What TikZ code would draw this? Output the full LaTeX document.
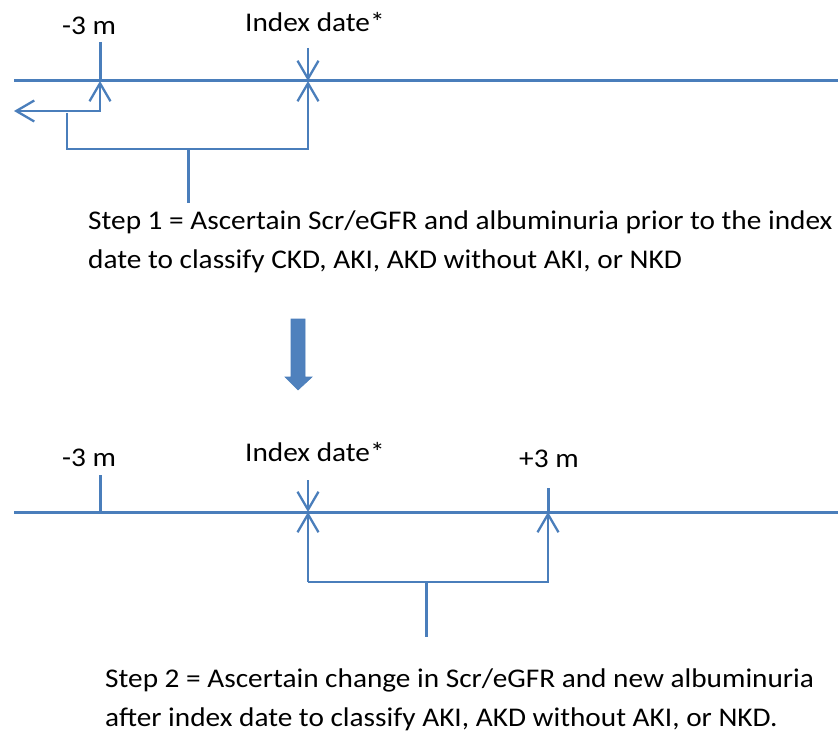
\documentclass[tikz,border=0pt]{standalone}
\usepackage{fontspec}
\setmainfont{Carlito}[FakeStretch=1.085]
\usetikzlibrary{arrows.meta}
\definecolor{lblue}{HTML}{4A7EBB}
\definecolor{fblue}{HTML}{4F81BD}
\tikzset{
  tl/.style={draw=lblue, line width=3pt},
  thin/.style={draw=lblue, line width=2.3pt},
  barb/.style={-{Straight Barb[length=18pt,width=21pt,line width=2.3pt]}},
  lbl/.style={anchor=base west, inner sep=0pt, font=\fontsize{27}{39}\selectfont, text=black},
}
\begin{document}
\begin{tikzpicture}[x=1pt,y=-1pt]
\useasboundingbox (0,0) rectangle (838,733);
% ---------- top timeline ----------
\coordinate (t1l) at (14,81);
\coordinate (t1r) at (838,81);
\coordinate (a1) at (100,81);
\coordinate (a1top) at (100,42);
\coordinate (a1el) at (100,111);
\coordinate (a1left) at (14,111);
\coordinate (i1) at (308,81);
\coordinate (i1top) at (308,48);
\coordinate (i1bot) at (308,149);
\coordinate (b1l) at (67,113);
\coordinate (b1lc) at (67,149);
\coordinate (s1a) at (188,149);
\coordinate (s1b) at (188,203);
\draw[tl] (t1l) -- (t1r);
\draw[tl] (a1top) -- (a1);
\draw[thin, {Straight Barb[length=18pt,width=21pt,line width=2.3pt]}-{Straight Barb[length=18pt,width=21pt,line width=2.3pt]}] (a1left) -- (a1el) -- (a1);
\draw[thin, barb] (i1top) -- (i1);
\draw[thin, barb] (b1l) -- (b1lc) -- (i1bot) -- (i1);
\draw[tl] (s1a) -- (s1b);
\node[lbl] (m1) at (62,35) {-3 m};
\node[lbl] (d1) at (245,32) {Index date*};
\node[lbl] (st1) at (88,229) {Step 1 = Ascertain Scr/eGFR and albuminuria prior to the index};
\node[lbl] (st1b) at (88,268) {date to classify CKD, AKI, AKD without AKI, or NKD};
% ---------- block arrow ----------
\fill[fblue, draw=lblue, line width=0.6pt] (291,319) -- (305,319) -- (305,377) -- (312,377) -- (298,390) -- (285,377) -- (291,377) -- cycle;
% ---------- bottom timeline ----------
\coordinate (t2l) at (14,512);
\coordinate (t2r) at (838,512);
\coordinate (m2t) at (100,475);
\coordinate (m2) at (100,512);
\coordinate (i2) at (308,512);
\coordinate (i2top) at (308,480);
\coordinate (i2bot) at (308,582);
\coordinate (p2) at (548,512);
\coordinate (p2top) at (548,488);
\coordinate (p2bot) at (548,582);
\coordinate (s2a) at (426,582);
\coordinate (s2b) at (426,637);
\draw[tl] (t2l) -- (t2r);
\draw[tl] (m2t) -- (m2);
\draw[thin, barb] (i2top) -- (i2);
\draw[tl] (p2top) -- (p2);
\draw[thin, barb] (i2bot) -- (i2);
\draw[thin, barb] (i2bot) -- (p2bot) -- (p2);
\draw[tl] (s2a) -- (s2b);
\node[lbl] (m2l) at (62,466) {-3 m};
\node[lbl] (d2) at (245,461) {Index date*};
\node[lbl] (p2l) at (519,467) {+3 m};
\node[lbl] (st2) at (105,687) {Step 2 = Ascertain change in Scr/eGFR and new albuminuria};
\node[lbl] (st2b) at (105,726) {after index date to classify AKI, AKD without AKI, or NKD.};
\end{tikzpicture}
\end{document}
